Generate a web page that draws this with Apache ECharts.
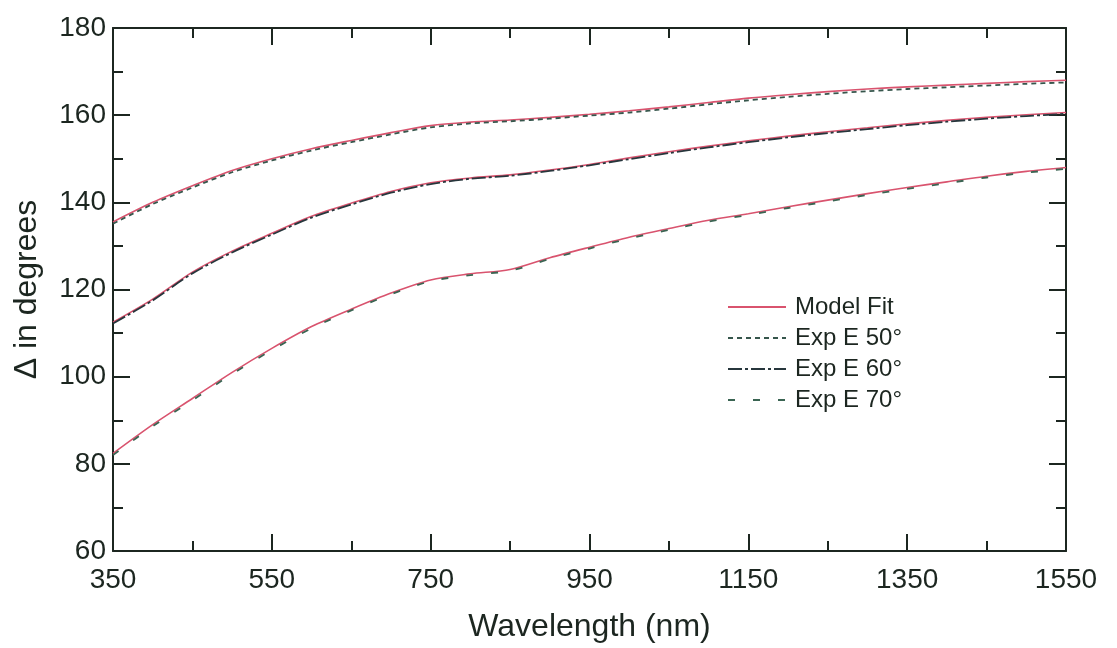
<!DOCTYPE html>
<html lang="en">
<head>
  <meta charset="UTF-8">
  <title>Delta vs wavelength</title>
  <style>
    html, body { margin: 0; padding: 0; background: #fff; }
  </style>
</head>
<body>
  <div id="main" style="width: 1117px;height:648px;"></div>
  <script src="https://cdn.jsdelivr.net/npm/echarts@6/dist/echarts.min.js"></script>
  <script type="text/javascript">
    // wavelength samples (nm)
    var wavelengths = [350, 400, 450, 500, 550, 600, 650, 700, 750, 800, 850, 900, 950,
      1000, 1050, 1100, 1150, 1200, 1250, 1300, 1350, 1400, 1450, 1500, 1550];

    // model fits, one per angle of incidence
    var fit50 = [135.5, 140.0, 143.8, 147.3, 150.0, 152.3, 154.2, 156.0, 157.6, 158.4, 158.9, 159.5, 160.2,
      161.0, 161.9, 162.9, 163.9, 164.7, 165.4, 166.0, 166.5, 166.9, 167.3, 167.7, 168.0];
    var fit60 = [112.5, 117.8, 124.0, 128.8, 132.9, 136.8, 139.8, 142.5, 144.5, 145.6, 146.3, 147.4, 148.7,
      150.2, 151.6, 152.9, 154.1, 155.2, 156.2, 157.1, 158.0, 158.8, 159.5, 160.1, 160.6];
    var fit70 = [82.4, 89.0, 95.0, 101.0, 106.5, 111.5, 115.5, 119.2, 122.2, 123.6, 124.6, 127.3, 129.7,
      132.0, 134.0, 135.9, 137.4, 139.0, 140.5, 142.0, 143.4, 144.7, 146.0, 147.1, 148.0];

    // measured data
    var exp50 = [135.1, 139.6, 143.4, 146.9, 149.6, 151.9, 153.8, 155.6, 157.2, 158.1, 158.6, 159.2, 159.9,
      160.6, 161.5, 162.5, 163.4, 164.2, 164.9, 165.5, 166.0, 166.4, 166.8, 167.2, 167.5];
    var exp60 = [112.2, 117.5, 123.7, 128.5, 132.6, 136.5, 139.5, 142.2, 144.2, 145.4, 146.1, 147.2, 148.5,
      149.9, 151.3, 152.6, 153.8, 154.9, 155.9, 156.8, 157.7, 158.5, 159.2, 159.8, 160.3];
    var exp70 = [82.0, 88.6, 94.6, 100.6, 106.1, 111.1, 115.2, 118.9, 121.9, 123.3, 124.3, 127.0, 129.4,
      131.7, 133.7, 135.6, 137.1, 138.7, 140.2, 141.7, 143.1, 144.4, 145.7, 146.8, 147.7];

    var xTicks = [350, 550, 750, 950, 1150, 1350, 1550];
    var yTicks = [60, 80, 100, 120, 140, 160, 180];

    var X0 = xTicks[0];  // axis is drawn as offset from 350 so ticks land on 350, 550, ...
    var ink = '#1c2620';
    var font = 'Liberation Sans, Arial, Helvetica, sans-serif';

    function pairs(ys) {
      return wavelengths.map(function (w, i) { return [w - X0, ys[i]]; });
    }

    var myChart = echarts.init(document.getElementById('main'));

    // one axis = one set of inward ticks; minor ticks get their own hidden-line axes
    function axisBase(len, showLine) {
      return {
        type: 'value',
        axisLine: { show: showLine, onZero: false, lineStyle: { color: ink, width: 2 } },
        axisTick: { show: true, inside: true, length: len, lineStyle: { color: ink, width: 2 } },
        splitLine: { show: false }
      };
    }

    function xAxisDef(pos, step, len, showLabel) {
      return Object.assign(axisBase(len, step === 200), {
        position: pos,
        min: 0,
        max: xTicks[xTicks.length - 1] - X0,
        interval: step,
        axisLabel: {
          show: showLabel, color: ink, fontSize: 28, fontFamily: font, margin: 15,
          formatter: function (v) { return String(v + X0); }
        },
        name: showLabel ? 'Wavelength (nm)' : '',
        nameLocation: 'middle',
        nameGap: 60,
        nameTextStyle: { color: ink, fontSize: 32, fontFamily: font }
      });
    }

    function yAxisDef(pos, step, len, showLabel) {
      return Object.assign(axisBase(len, step === 20), {
        position: pos,
        min: yTicks[0],
        max: yTicks[yTicks.length - 1],
        interval: step,
        axisLabel: { show: showLabel, color: ink, fontSize: 28, fontFamily: font, margin: 7 },
        name: showLabel ? '\u0394 in degrees' : '',
        nameLocation: 'middle',
        nameRotate: 90,
        nameGap: 70,
        nameTextStyle: { color: ink, fontSize: 32, fontFamily: font }
      });
    }

    function fitSeries(data) {
      return {
        name: 'Model Fit', type: 'line', data: pairs(data), symbol: 'none', smooth: 0.3,
        lineStyle: { color: '#d9536e', width: 1.6 }, itemStyle: { color: '#d9536e' },
        z: 2, animation: false
      };
    }

    function expSeries(name, data, color, dash) {
      return {
        name: name, type: 'line', data: pairs(data), symbol: 'none', smooth: 0.3,
        lineStyle: { color: color, width: 1.8, type: dash }, itemStyle: { color: color },
        z: 3, animation: false
      };
    }

    var option = {
      backgroundColor: '#fff',
      animation: false,
      grid: { left: 113, right: 51, top: 28, bottom: 95, containLabel: false },
      legend: {
        orient: 'vertical',
        left: 727,
        top: 295,
        padding: 0,
        itemWidth: 58,
        itemHeight: 14,
        itemGap: 7,
        data: ['Model Fit', 'Exp E 50\u00b0', 'Exp E 60\u00b0', 'Exp E 70\u00b0'],
        itemStyle: { color: 'rgba(0,0,0,0)', borderWidth: 0 },
        textStyle: { color: ink, fontSize: 24, fontFamily: font, lineHeight: 24, padding: [0, 0, 0, 4] }
      },
      xAxis: [
        xAxisDef('bottom', 200, 17, true),
        xAxisDef('top', 200, 17, false),
        xAxisDef('bottom', 100, 10, false),
        xAxisDef('top', 100, 10, false)
      ],
      yAxis: [
        yAxisDef('left', 20, 17, true),
        yAxisDef('right', 20, 17, false),
        yAxisDef('left', 10, 10, false),
        yAxisDef('right', 10, 10, false)
      ],
      series: [
        fitSeries(fit50),
        fitSeries(fit60),
        fitSeries(fit70),
        expSeries('Exp E 50\u00b0', exp50, '#36564c', [5, 4]),
        expSeries('Exp E 60\u00b0', exp60, '#27363c', [14, 3, 3, 3]),
        expSeries('Exp E 70\u00b0', exp70, '#3a6452', [7, 18])
      ]
    };

    myChart.setOption(option);
  </script>
</body>
</html>
